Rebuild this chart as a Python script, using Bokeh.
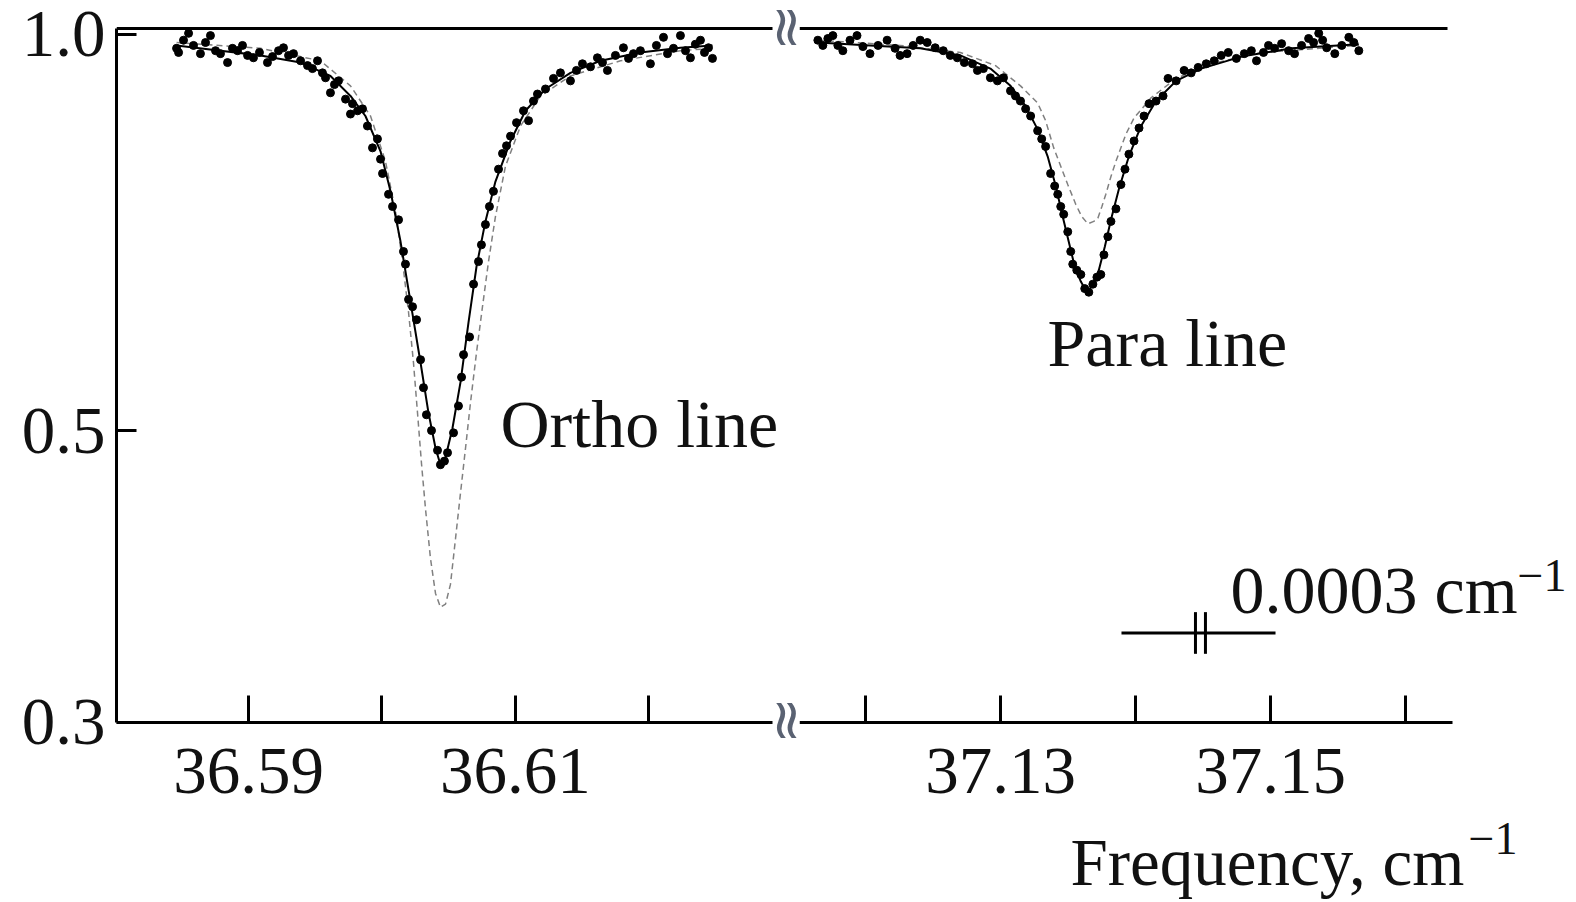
import math
from bokeh.plotting import figure
from bokeh.models import Range1d, FixedTicker, LinearAxis, Label, CustomJSTickFormatter
from bokeh.layouts import row
from bokeh.embed import file_html
from bokeh.resources import INLINE

# ---------------- data: ortho line (left panel) ----------------
ortho_freq = [36.58461, 36.58476, 36.58513, 36.58551, 36.58588, 36.58640, 36.58678, 36.58715, 36.58753, 36.58790,
              36.58843, 36.58880, 36.58918, 36.58955, 36.58993, 36.59037, 36.59082, 36.59142, 36.59180, 36.59225,
              36.59262, 36.59300, 36.59337, 36.59390, 36.59442, 36.59479, 36.59517, 36.59554, 36.59577, 36.59614,
              36.59644, 36.59674, 36.59727, 36.59764, 36.59779, 36.59817, 36.59854, 36.59891, 36.59929, 36.59966,
              36.59989, 36.60004, 36.60049, 36.60079, 36.60124, 36.60161, 36.60176, 36.60199, 36.60229, 36.60259,
              36.60289, 36.60311, 36.60333, 36.60371, 36.60416, 36.60438, 36.60468, 36.60491, 36.60536, 36.60573,
              36.60596, 36.60611, 36.60656, 36.60686, 36.60723, 36.60745, 36.60775, 36.60805, 36.60835, 36.60873,
              36.60903, 36.60933, 36.60963, 36.61008, 36.61060, 36.61098, 36.61135, 36.61165, 36.61225, 36.61285,
              36.61337, 36.61412, 36.61457, 36.61502, 36.61562, 36.61614, 36.61652, 36.61689, 36.61749, 36.61809,
              36.61847, 36.61884, 36.61936, 36.62011, 36.62056, 36.62109, 36.62139, 36.62184, 36.62236, 36.62274,
              36.62311, 36.62348, 36.62386, 36.62416, 36.62446, 36.62476]
ortho_trans = [0.976, 0.969, 0.990, 1.002, 0.981, 0.967, 0.986, 0.998, 0.972, 0.967,
               0.952, 0.976, 0.972, 0.981, 0.964, 0.960, 0.969, 0.952, 0.962, 0.972,
               0.977, 0.964, 0.967, 0.955, 0.947, 0.942, 0.955, 0.935, 0.927, 0.903,
               0.916, 0.922, 0.893, 0.870, 0.886, 0.875, 0.878, 0.852, 0.820, 0.833,
               0.804, 0.784, 0.756, 0.740, 0.723, 0.684, 0.669, 0.629, 0.621, 0.607,
               0.566, 0.539, 0.514, 0.500, 0.483, 0.471, 0.474, 0.481, 0.498, 0.522,
               0.549, 0.571, 0.589, 0.646, 0.672, 0.692, 0.717, 0.740, 0.760, 0.790,
               0.812, 0.823, 0.837, 0.857, 0.875, 0.860, 0.890, 0.901, 0.909, 0.926,
               0.935, 0.922, 0.939, 0.950, 0.945, 0.960, 0.952, 0.939, 0.964, 0.977,
               0.959, 0.967, 0.972, 0.950, 0.981, 0.995, 0.967, 0.976, 0.998, 0.972,
               0.960, 0.983, 0.990, 0.969, 0.977, 0.959]

ortho_fit_freq = [36.58461, 36.58790, 36.59090, 36.59390, 36.59614, 36.59764, 36.59876, 36.59989, 36.60064, 36.60139,
                  36.60214, 36.60289, 36.60348, 36.60401, 36.60438, 36.60476, 36.60528, 36.60588, 36.60648, 36.60708,
                  36.60775, 36.60850, 36.60963, 36.61075, 36.61225, 36.61412, 36.61637, 36.61936, 36.62236, 36.62476]
ortho_fit_trans = [0.981, 0.972, 0.964, 0.952, 0.930, 0.898, 0.867, 0.815, 0.760, 0.696,
                   0.626, 0.563, 0.516, 0.485, 0.471, 0.477, 0.502, 0.544, 0.604, 0.666,
                   0.721, 0.773, 0.830, 0.875, 0.909, 0.935, 0.955, 0.969, 0.977, 0.981]

ortho_model_freq = [36.58461, 36.59090, 36.59539, 36.59764, 36.59914, 36.60026, 36.60101, 36.60154, 36.60199, 36.60236,
                    36.60266, 36.60296, 36.60326, 36.60363, 36.60401, 36.60438, 36.60476, 36.60513, 36.60551, 36.60588,
                    36.60626, 36.60663, 36.60708, 36.60753, 36.60798, 36.60850, 36.60925, 36.61038, 36.61187, 36.61412,
                    36.61787, 36.62236, 36.62476]
ortho_model_trans = [0.986, 0.976, 0.955, 0.914, 0.867, 0.801, 0.734, 0.672, 0.615, 0.563,
                     0.516, 0.472, 0.436, 0.400, 0.376, 0.367, 0.369, 0.382, 0.414, 0.448,
                     0.485, 0.525, 0.573, 0.621, 0.672, 0.727, 0.794, 0.852, 0.898, 0.930,
                     0.955, 0.972, 0.976]

# ---------------- data: para line (right panel) ----------------
para_freq = [37.11647, 37.11684, 37.11721, 37.11758, 37.11795, 37.11832, 37.11885, 37.11937, 37.11981, 37.12033,
             37.12093, 37.12160, 37.12219, 37.12256, 37.12308, 37.12353, 37.12405, 37.12457, 37.12516, 37.12576,
             37.12628, 37.12680, 37.12732, 37.12792, 37.12829, 37.12873, 37.12925, 37.12977, 37.13022, 37.13074,
             37.13111, 37.13148, 37.13186, 37.13223, 37.13275, 37.13305, 37.13334, 37.13371, 37.13401, 37.13424,
             37.13446, 37.13468, 37.13498, 37.13520, 37.13535, 37.13565, 37.13595, 37.13624, 37.13654, 37.13684,
             37.13714, 37.13743, 37.13766, 37.13795, 37.13818, 37.13855, 37.13892, 37.13922, 37.13951, 37.13989,
             37.14026, 37.14063, 37.14100, 37.14152, 37.14204, 37.14241, 37.14301, 37.14360, 37.14412, 37.14464,
             37.14524, 37.14583, 37.14635, 37.14687, 37.14747, 37.14806, 37.14858, 37.14896, 37.14948, 37.14985,
             37.15030, 37.15082, 37.15134, 37.15178, 37.15230, 37.15282, 37.15319, 37.15357, 37.15386, 37.15416,
             37.15476, 37.15528, 37.15580, 37.15617, 37.15654]
para_trans = [0.990, 0.981, 0.993, 0.998, 0.981, 0.972, 0.990, 0.998, 0.979, 0.967,
              0.981, 0.990, 0.976, 0.964, 0.967, 0.981, 0.990, 0.986, 0.977, 0.972,
              0.964, 0.960, 0.952, 0.950, 0.939, 0.942, 0.927, 0.922, 0.927, 0.906,
              0.898, 0.890, 0.878, 0.867, 0.845, 0.833, 0.822, 0.784, 0.767, 0.756,
              0.740, 0.730, 0.708, 0.684, 0.669, 0.662, 0.657, 0.641, 0.637, 0.646,
              0.654, 0.657, 0.680, 0.702, 0.721, 0.737, 0.769, 0.790, 0.811, 0.830,
              0.849, 0.867, 0.886, 0.890, 0.898, 0.926, 0.922, 0.939, 0.935, 0.944,
              0.950, 0.955, 0.964, 0.969, 0.959, 0.967, 0.972, 0.955, 0.969, 0.981,
              0.976, 0.984, 0.972, 0.967, 0.981, 0.993, 0.986, 1.002, 0.990, 0.977,
              0.967, 0.981, 0.995, 0.986, 0.972]

para_fit_freq = [37.11647, 37.12033, 37.12405, 37.12702, 37.12925, 37.13074, 37.13186, 37.13275, 37.13349, 37.13409,
                 37.13461, 37.13505, 37.13550, 37.13595, 37.13639, 37.13684, 37.13728, 37.13773, 37.13818, 37.13877,
                 37.13951, 37.14041, 37.14152, 37.14301, 37.14487, 37.14784, 37.15156, 37.15654]
para_fit_trans = [0.986, 0.981, 0.976, 0.964, 0.942, 0.914, 0.882, 0.847, 0.808, 0.767,
                  0.727, 0.696, 0.666, 0.649, 0.637, 0.645, 0.662, 0.690, 0.723, 0.763,
                  0.808, 0.852, 0.890, 0.922, 0.942, 0.962, 0.976, 0.983]

para_model_freq = [37.11647, 37.12256, 37.12702, 37.12963, 37.13148, 37.13275, 37.13334, 37.13394, 37.13446, 37.13498,
                   37.13557, 37.13602, 37.13647, 37.13691, 37.13721, 37.13751, 37.13780, 37.13818, 37.13855, 37.13929,
                   37.13989, 37.14115, 37.14301, 37.14561, 37.14933, 37.15654]
para_model_trans = [0.990, 0.981, 0.969, 0.947, 0.914, 0.887, 0.860, 0.820, 0.794, 0.769,
                    0.743, 0.727, 0.718, 0.721, 0.725, 0.740, 0.756, 0.780, 0.801, 0.840,
                    0.864, 0.895, 0.926, 0.950, 0.969, 0.981]

# ---------------- axes / ticks ----------------
y_axis_bounds = (0.3, 1.0105)
y_ticks = [0.3, 0.5, 1.0]
x_ticks_left = [36.59, 36.60, 36.61, 36.62]
x_labels_left = [36.59, 36.61]
x_ticks_right = [37.12, 37.13, 37.14, 37.15, 37.16]
x_labels_right = [37.13, 37.15]
left_bounds = (36.58011, 36.62925)
right_bottom_bounds = (37.11511, 37.16348)
right_top_bounds = (37.11511, 37.16311)

# resolution marker (0.0003 cm-1)
res_bar_x = [37.13896, 37.15037]
res_bar_y = 0.3508
res_marks_x = [37.14444, 37.14518]
res_marks_y = [0.3383, 0.3639]

SERIF = "Liberation Serif"
TICK_FONT = "67px"
TEXT_FONT = "68px"
SUP_FONT = "46px"
INK = "#111111"

# shared log y-range (frame spans the whole canvas height; axes are placed at fixed locations)
y_range = Range1d(0.21970, 1.06123)

label_js = """
const hit = shown.some((s) => Math.abs(s - tick) < 1e-6);
return hit ? tick.toFixed(2) : "";
"""


def style_axis(ax, tick_in):
    ax.axis_line_width = 3
    ax.axis_line_color = "black"
    ax.major_tick_in = tick_in
    ax.major_tick_out = 0
    ax.major_tick_line_width = 3
    ax.major_tick_line_color = "black"
    ax.minor_tick_line_color = None
    ax.minor_tick_in = 0
    ax.minor_tick_out = 0
    ax.major_label_text_font = SERIF
    ax.major_label_text_font_size = TICK_FONT
    ax.major_label_text_color = INK


def top_line(p, bounds):
    ax = LinearAxis(ticker=FixedTicker(ticks=[]), fixed_location=y_axis_bounds[1], bounds=bounds)
    ax.axis_line_width = 3
    ax.axis_line_color = "black"
    ax.major_tick_in = 0
    ax.major_tick_out = 0
    ax.minor_tick_in = 0
    ax.minor_tick_out = 0
    ax.major_label_text_font_size = "0px"
    ax.major_label_standoff = 0
    p.add_layout(ax, "above")


def text(p, x, y, s, size, font=SERIF, **kw):
    p.add_layout(Label(x=x, y=y, text=s, text_font=font, text_font_size=size,
                       text_color=kw.pop("color", INK), text_align=kw.pop("align", "left"),
                       text_baseline=kw.pop("baseline", "alphabetic"), **kw))


common = dict(frame_height=900, y_range=y_range, y_axis_type="log", output_backend="svg",
              toolbar_location=None, min_border_top=0, min_border_bottom=0,
              background_fill_color="white", border_fill_color="white", outline_line_color=None)

# ---------------- left panel ----------------
left = figure(frame_width=683, x_range=Range1d(36.58011, 36.63128),
              min_border_left=116, min_border_right=0, **common)
left.grid.visible = False
top_line(left, left_bounds)

bx = left.below[0]
style_axis(bx, 27)
bx.fixed_location = y_axis_bounds[0]
bx.bounds = left_bounds
bx.ticker = FixedTicker(ticks=x_ticks_left)
bx.formatter = CustomJSTickFormatter(args=dict(shown=x_labels_left), code=label_js)
bx.major_label_standoff = 27

ly = left.left[0]
style_axis(ly, 20)
ly.bounds = y_axis_bounds
ly.ticker = FixedTicker(ticks=y_ticks)
ly.formatter = CustomJSTickFormatter(code="return tick.toFixed(1);")
ly.major_label_standoff = 11

left.line(ortho_model_freq, ortho_model_trans, line_color="#808080", line_width=1.5, line_dash="6 4")
left.line(ortho_fit_freq, ortho_fit_trans, line_color="black", line_width=2)
left.scatter(ortho_freq, ortho_trans, size=8, fill_color="black", line_color="black")

text(left, 36.60888, 0.5060, "Ortho line", TEXT_FONT)

# axis-break marks (in the gap between the two panels)
for yb in (1.0123, 0.30103):
    text(left, 36.63015, yb, "\u2248", "56px", font="DejaVu Sans", color="#5a6272",
         angle=math.pi / 2, align="center", baseline="middle")

# ---------------- right panel ----------------
right = figure(frame_width=775, x_range=Range1d(37.11511, 37.172516), y_axis_location=None,
               min_border_left=0, min_border_right=0, **common)
right.grid.visible = False
top_line(right, right_top_bounds)

rx = right.below[0]
style_axis(rx, 27)
rx.fixed_location = y_axis_bounds[0]
rx.bounds = right_bottom_bounds
rx.ticker = FixedTicker(ticks=x_ticks_right)
rx.formatter = CustomJSTickFormatter(args=dict(shown=x_labels_right), code=label_js)
rx.major_label_standoff = 27

right.line(para_model_freq, para_model_trans, line_color="#808080", line_width=1.5, line_dash="6 4")
right.line(para_fit_freq, para_fit_trans, line_color="black", line_width=2)
right.scatter(para_freq, para_trans, size=8, fill_color="black", line_color="black")

# resolution marker
right.segment(x0=[res_bar_x[0]], y0=[res_bar_y], x1=[res_bar_x[1]], y1=[res_bar_y],
              line_color="black", line_width=3)
right.segment(x0=res_marks_x, y0=[res_marks_y[0]] * 2, x1=res_marks_x, y1=[res_marks_y[1]] * 2,
              line_color="black", line_width=3)

text(right, 37.13348, 0.5826, "Para line", TEXT_FONT)
text(right, 37.14704, 0.3783, "0.0003 cm", TEXT_FONT)
text(right, 37.16830, 0.3881, "\u22121", SUP_FONT)
text(right, 37.13518, 0.23485, "Frequency, cm", "67px")
text(right, 37.16466, 0.2449, "\u22121", SUP_FONT)

layout = row(left, right)
open("out.html", "w").write(file_html(layout, INLINE))
